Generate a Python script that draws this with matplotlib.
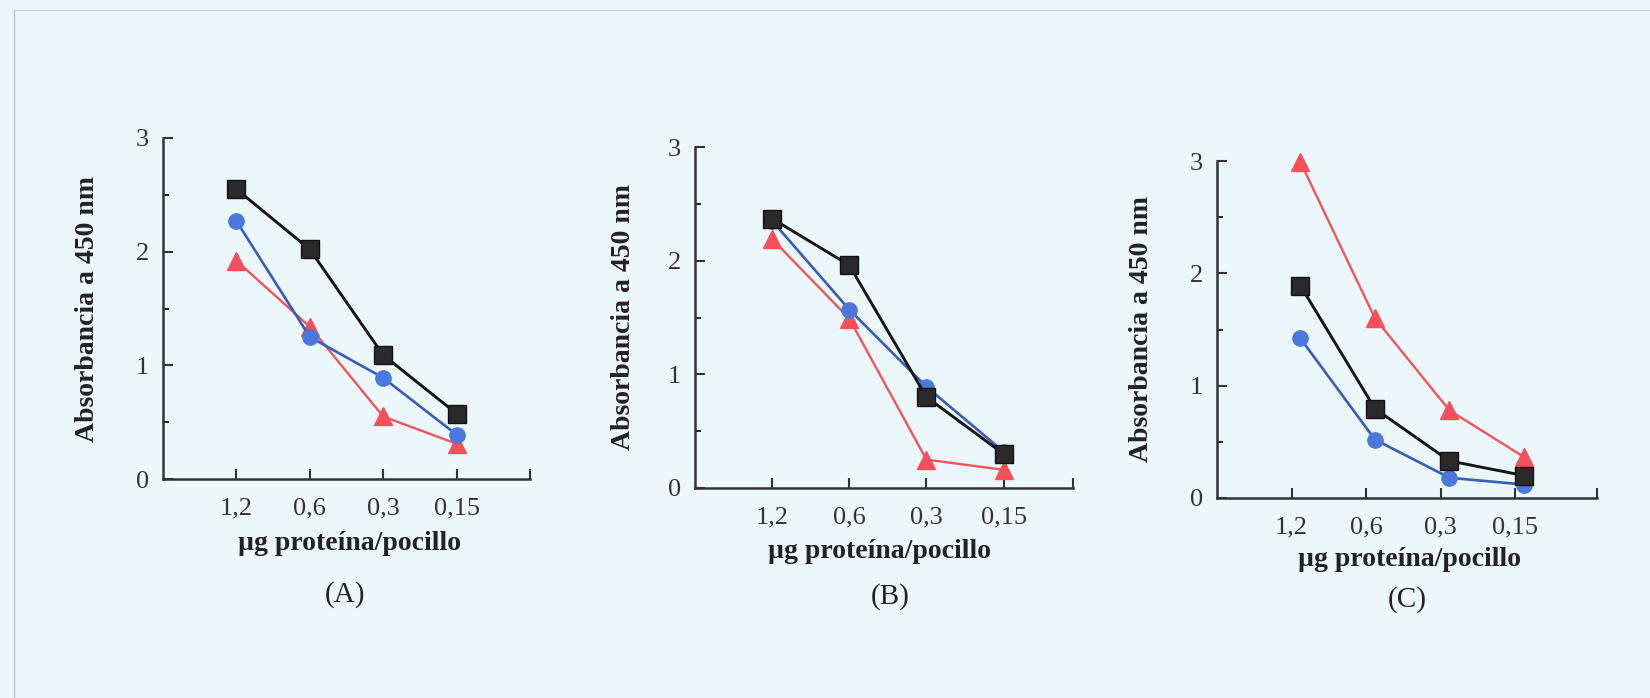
import numpy as np
import matplotlib.pyplot as plt

doses = ["1,2", "0,6", "0,3", "0,15"]

# absorbance values, one triple per panel
black_a = [2.55, 2.02, 1.09, 0.575]
blue_a = [2.27, 1.25, 0.89, 0.39]
red_a = [1.92, 1.34, 0.55, 0.31]

black_b = [2.37, 1.96, 0.80, 0.30]
blue_b = [2.35, 1.57, 0.89, 0.32]
red_b = [2.19, 1.49, 0.25, 0.16]

black_c = [1.89, 0.795, 0.33, 0.20]
blue_c = [1.42, 0.52, 0.18, 0.12]
red_c = [2.99, 1.60, 0.78, 0.365]

panels = ["(A)", "(B)", "(C)"]
data = [(black_a, blue_a, red_a), (black_b, blue_b, red_b), (black_c, blue_c, red_c)]

bg = "#ecf7fb"
plt.rcParams['font.family'] = ['Liberation Serif', 'DejaVu Serif']

fig = plt.figure(figsize=(16.5, 6.98), dpi=100, facecolor=bg)
W, H = 1650, 698

# axes boxes in pixels: left, right, bottom(y=0), top(y=3), xmax
boxes = [(163, 530, 479, 138, 5.0),
         (695, 1073, 488, 147, 4.9),
         (1217, 1597, 498, 161, 5.1)]
shifts = [0.0, 0.0, 0.12]
ylab_x = [88, 623, 1142]
xlab = [(350, 543), (880, 552), (1410, 560)]
plab = [(345, 595), (890, 597), (1407, 600)]

for i, (l, r, b, t, xmax) in enumerate(boxes):
    ax = fig.add_axes([l / W, 1 - b / H, (r - l) / W, (b - t) / H])
    ax.set_facecolor("none")
    x = np.arange(1, 5) + shifts[i]
    k, bl, rd = data[i]
    ax.plot(x, rd, color="#f0555a", lw=1.7, marker="^", ms=13, mfc="#f5505a",
            mec="#f5505a", clip_on=False, zorder=3)
    ax.plot(x, bl, color="#3b5bb8", lw=1.9, marker="o", ms=11, mfc="#4a78df",
            mec="#4a78df", clip_on=False, zorder=4)
    ax.plot(x, k, color="#151515", lw=2.1, marker="s", ms=13, mfc="#2a2a2a",
            mec="#111111", clip_on=False, zorder=5)
    ax.set_xlim(0, xmax)
    ax.set_ylim(0, 3)
    ax.set_xticks(list(np.arange(1, 5)) + [xmax])
    ax.set_xticklabels(doses + [""])
    ax.set_yticks([0, 1, 2, 3])
    ax.set_yticks([0.5, 1.5, 2.5], minor=True)
    ax.tick_params(direction="in", length=7, width=1.5, labelsize=19, pad=10,
                   colors="#333333")
    ax.tick_params(which="minor", direction="in", length=4, width=1.2)
    ax.tick_params(axis="x", pad=13)
    for s in ["top", "right"]:
        ax.spines[s].set_visible(False)
    for s in ["left", "bottom"]:
        ax.spines[s].set_linewidth(1.8)
        ax.spines[s].set_color("#333333")

    fig.text(ylab_x[i] / W, 1 - ((b + t) / 2) / H, "Absorbancia a 450 nm",
             rotation=90, ha="center", va="center", fontsize=20,
             fontweight="bold", color="#222222")
    fig.text(xlab[i][0] / W, 1 - xlab[i][1] / H, "µg proteína/pocillo",
             ha="center", va="center", fontsize=20, fontweight="bold",
             color="#222222")
    fig.text(plab[i][0] / W, 1 - plab[i][1] / H, panels[i],
             ha="center", va="center", fontsize=21, color="#222222")

# faint scan border
fig.add_artist(plt.Line2D([14 / W, 14 / W], [0, 1 - 10 / H], color="#b8c4cc", lw=1))
fig.add_artist(plt.Line2D([14 / W, 1], [1 - 10 / H, 1 - 10 / H], color="#c8d4da", lw=1))

fig.savefig("out.png", dpi=100, facecolor=bg)
